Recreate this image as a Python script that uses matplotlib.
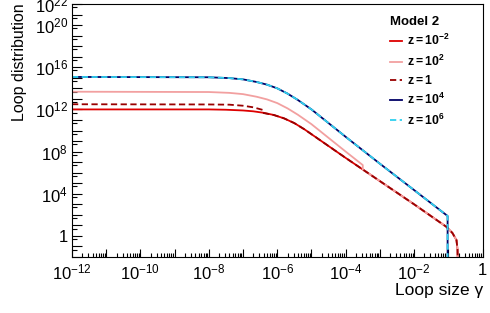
import numpy as np
import matplotlib
matplotlib.use('Agg')
import matplotlib.pyplot as plt
from matplotlib.ticker import FixedLocator, FixedFormatter, NullFormatter

plt.rcParams['font.family'] = ['Liberation Sans', 'DejaVu Sans']
plt.rcParams['mathtext.fontset'] = 'custom'
plt.rcParams['mathtext.rm'] = 'Liberation Sans'
plt.rcParams['mathtext.it'] = 'Liberation Sans:italic'
plt.rcParams['mathtext.bf'] = 'Liberation Sans:bold'
plt.rcParams['lines.scale_dashes'] = False

# curves, as log10(gamma) and log10(distribution)
# z = 10^-2
lg_red = [-12, -8, -7.5, -7, -6.7, -6.4, -6.1, -5.8, -5.5, -5.2, -4.8, -4, -3, -2,
          -1.05, -0.88, -0.76, -0.73, -0.72]
ly_red = [12.0, 12.0, 11.97, 11.9, 11.82, 11.68, 11.47, 11.15, 10.7, 10.1, 9.2, 7.4, 5.2, 3.0,
          0.85, 0.28, -0.4, -1.3, -3]

# z = 10^2
lg_pink = [-12, -8, -7.4, -7, -6.6, -6.3, -6, -5.7, -5.4, -5, -4.5, -4, -3.5, -3.5,
           -3, -2, -1.05, -0.88, -0.76, -0.73, -0.72]
ly_pink = [13.68, 13.65, 13.57, 13.45, 13.2, 12.95, 12.6, 12.1, 11.5, 10.6, 9.3, 8.0, 6.72, 6.3,
           5.2, 3.0, 0.85, 0.28, -0.4, -1.3, -3]

# z = 1
lg_dark = [-12, -8, -7.4, -7, -6.7, -6.42, -6.42, -6.1, -5.8, -5.5, -5.2, -4.8, -4, -3, -2,
           -1.05, -0.88, -0.76, -0.73, -0.72]
ly_dark = [12.49, 12.47, 12.45, 12.35, 12.2, 11.95, 11.67, 11.47, 11.15, 10.7, 10.1, 9.2, 7.4,
           5.2, 3.0, 0.85, 0.28, -0.4, -1.3, -3]

# z = 10^4 and z = 10^6 lie on top of each other
lg_hi = [-12, -8, -7.4, -7, -6.6, -6.3, -6, -5.7, -5.4, -5, -4.5, -4, -3, -2, -1.02, -1.02]
ly_hi = [15.08, 15.05, 14.97, 14.85, 14.6, 14.35, 14.0, 13.5, 12.9, 12.0, 10.7, 9.4, 6.85, 4.35, 1.89, -5]

x_label_exp = [-12, -10, -8, -6, -4, -2, 0]
y_label_exp = [0, 4, 8, 12, 16, 20, 22]


def exp_label(e):
    return '1' if e == 0 else r'$10^{%d}$' % e


fig = plt.figure(figsize=(4.9, 3.13), dpi=100)
ax = fig.add_axes([72 / 490, 56 / 313, 410.5 / 490, 253 / 313])

ax.plot(10.0 ** np.array(lg_red), 10.0 ** np.array(ly_red), color='#dd0000', lw=1.3,
        label=r'$\mathbf{z=10^{-2}}$')
ax.plot(10.0 ** np.array(lg_pink), 10.0 ** np.array(ly_pink), color='#f2a0a0', lw=1.3,
        label=r'$\mathbf{z=10^{2}}$')
ax.plot(10.0 ** np.array(lg_dark), 10.0 ** np.array(ly_dark), color='#990000', lw=1.3,
        dashes=(4.5, 2.5), label=r'$\mathbf{z=1}$')
ax.plot(10.0 ** np.array(lg_hi), 10.0 ** np.array(ly_hi), color='#000066', lw=1.3,
        label=r'$\mathbf{z=10^{4}}$')
ax.plot(10.0 ** np.array(lg_hi), 10.0 ** np.array(ly_hi), color='#2fd0ef', lw=1.3,
        dashes=(4.5, 2.5), label=r'$\mathbf{z=10^{6}}$')

ax.set_xscale('log')
ax.set_yscale('log')
ax.set_xlim(1e-12, 1)
ax.set_ylim(1e-2, 1e22)

x_major = 10.0 ** np.arange(-12, 1)
ax.xaxis.set_major_locator(FixedLocator(x_major))
ax.xaxis.set_major_formatter(FixedFormatter(
    [exp_label(e) if e in x_label_exp else '' for e in range(-12, 1)]))
ax.xaxis.set_minor_locator(FixedLocator(
    [k * 10.0 ** e for e in range(-12, 0) for k in range(2, 10)]))
ax.xaxis.set_minor_formatter(NullFormatter())

y_major = 10.0 ** np.arange(-2, 23)
ax.yaxis.set_major_locator(FixedLocator(y_major))
ax.yaxis.set_major_formatter(FixedFormatter(
    [exp_label(e) if e in y_label_exp else '' for e in range(-2, 23)]))
ax.yaxis.set_minor_locator(FixedLocator([5 * 10.0 ** e for e in range(-2, 22)]))
ax.yaxis.set_minor_formatter(NullFormatter())

ax.tick_params(which='both', direction='in', top=False, right=False, width=0.8,
               labelsize=12)
ax.tick_params(axis='x', which='major', length=5.8, pad=4)
ax.tick_params(axis='x', which='minor', length=2.6)
ax.tick_params(axis='y', which='major', length=7, pad=3)
ax.tick_params(axis='y', which='minor', length=3.5)
for sp in ax.spines.values():
    sp.set_linewidth(0.8)

fig.text(20 / 490, 1 - 3 / 313, 'Loop distribution', rotation=90, ha='center', va='top',
         fontsize=11.5)
fig.text(483 / 490, 1 - 290 / 313, 'Loop size γ', ha='right', va='center', fontsize=12.5)

leg = ax.legend(title='Model 2', loc='upper left', bbox_to_anchor=(0.775, 0.952),
                frameon=False, prop={'size': 8.8}, handlelength=1.0, handletextpad=0.35,
                labelspacing=0.42, borderaxespad=0, borderpad=0, alignment='left',
                title_fontproperties={'weight': 'bold', 'size': 9.5})

fig.savefig('out.png', dpi=100)
